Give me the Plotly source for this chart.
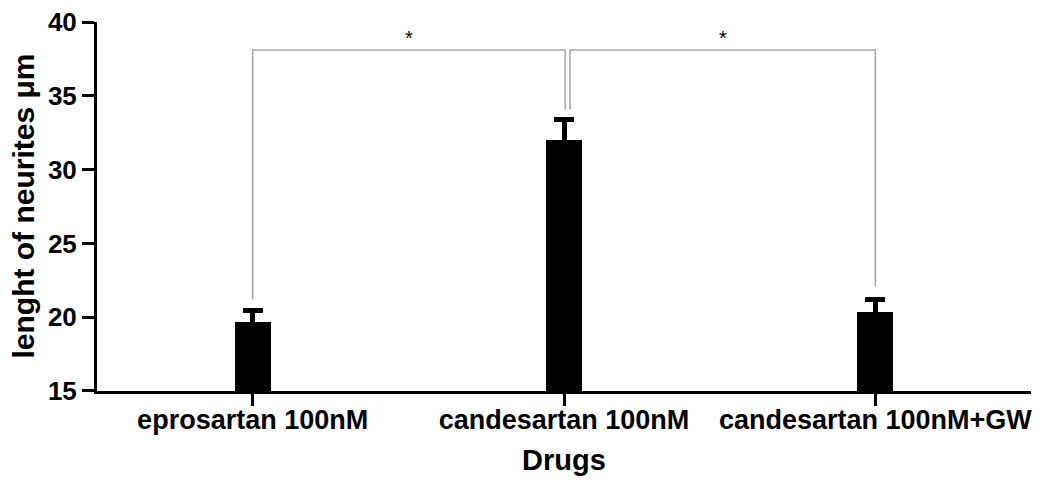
import plotly.graph_objects as go

# ---- data ----
categories = ["eprosartan 100nM", "candesartan 100nM", "candesartan 100nM+GW"]
means = [19.68, 32.0, 20.36]
sem = [0.78, 1.4, 0.85]

# significance brackets: (left category index, right category index)
bracket_pairs = [(0, 1), (1, 2)]
bracket_top = [38.1, 38.1]
bracket_left_end = [21.2, 34.07]
bracket_right_end = [34.07, 22.1]
bracket_label = ["*", "*"]

y_ticks = [15, 20, 25, 30, 35, 40]
x_title = "Drugs"
y_title = "lenght of neurites μm"

FONT = "Liberation Sans, Arial, sans-serif"
LINE_GRAY = "#a6a6a6"

fig = go.Figure()
fig.add_trace(go.Bar(
    x=list(range(len(categories))),
    y=means,
    width=0.116,
    marker=dict(color="black", line=dict(width=0)),
    error_y=dict(type="data", array=sem, symmetric=True,
                 color="black", thickness=5, width=10),
    showlegend=False,
))

# brackets (small horizontal offsets at the shared middle bar)
for k, (i, j) in enumerate(bracket_pairs):
    xl = i + (0.019 if i == 1 else 0)
    xr = j + (0.004 if j == 1 else 0)
    fig.add_shape(type="path",
                  path=f"M {xl} {bracket_left_end[k]} L {xl} {bracket_top[k]} L {xr} {bracket_top[k]} L {xr} {bracket_right_end[k]}",
                  xref="x", yref="y", line=dict(color=LINE_GRAY, width=1.6))
    fig.add_annotation(x=(xl + xr) / 2, y=bracket_top[k], yshift=12, text=bracket_label[k],
                       showarrow=False, font=dict(family=FONT, size=20, color="black"))

# axis titles
fig.add_annotation(text=x_title, xref="paper", yref="paper", x=0.5, y=-0.187,
                   xanchor="center", yanchor="middle", showarrow=False,
                   font=dict(family=FONT, size=29, color="black", weight="bold"))
fig.add_annotation(text=y_title, xref="paper", yref="paper", x=-0.0792, y=0.5,
                   xanchor="center", yanchor="middle", textangle=-90, showarrow=False,
                   font=dict(family=FONT, size=30, color="black", weight="bold"))

# page body has an 8px margin: figure is sized/offset to compensate
fig.update_layout(
    width=1035, height=477,
    margin=dict(l=89, r=12, t=14, b=94),
    paper_bgcolor="white", plot_bgcolor="white",
    font=dict(family=FONT, color="black"),
    bargap=0,
)
fig.update_xaxes(
    range=[-0.5, 2.5], automargin=False,
    tickmode="array", tickvals=list(range(len(categories))), ticktext=categories,
    showline=True, linecolor="black", linewidth=3,
    ticks="outside", ticklen=12, tickwidth=3, tickcolor="black",
    ticklabelstandoff=-9, ticklabeloverflow="allow",
    tickfont=dict(family=FONT, size=27, color="black", weight="bold"),
    showgrid=False, zeroline=False,
)
fig.update_yaxes(
    range=[14.999, 40.002], automargin=False,
    tickmode="array", tickvals=y_ticks,
    showline=True, linecolor="black", linewidth=3,
    ticks="outside", ticklen=12, tickwidth=3, tickcolor="black",
    ticklabeloverflow="allow",
    tickfont=dict(family=FONT, size=26, color="black", weight="bold"),
    showgrid=False, zeroline=False,
)

fig.write_html("out.html")
